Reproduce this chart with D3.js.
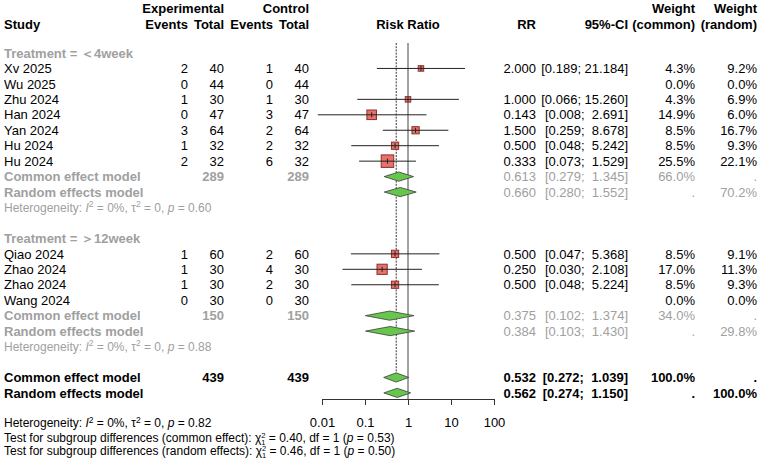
<!DOCTYPE html>
<html><head><meta charset="utf-8">
<script src="https://cdn.jsdelivr.net/npm/d3@7"></script>
<style>
body{margin:0;background:#fff}
svg{font-family:"Liberation Sans",Arial,sans-serif;display:block}
text{white-space:pre}
</style>
</head><body>
<svg id="chart" width="760" height="464"></svg>
<script>
// ---------------- data ----------------
const studyLabels = ["Xv 2025","Wu 2025","Zhu 2024","Han 2024","Yan 2024","Hu 2024","Hu 2024",
                     "Qiao 2024","Zhao 2024","Zhao 2024","Wang 2024"];
const studyGroup  = [0,0,0,0,0,0,0,1,1,1,1];
const expEvents   = [2,0,1,0,3,1,2,1,1,1,0];
const expTotal    = [40,44,30,47,64,32,32,60,30,30,30];
const ctlEvents   = [1,0,1,3,2,2,6,2,4,2,0];
const ctlTotal    = [40,44,30,47,64,32,32,60,30,30,30];
const rrValues    = [2.000,null,1.000,0.143,1.500,0.500,0.333,0.500,0.250,0.500,null];
const ciLower     = [0.189,null,0.066,0.008,0.259,0.048,0.073,0.047,0.030,0.048,null];
const ciUpper     = [21.184,null,15.260,2.691,8.678,5.242,1.529,5.368,2.108,5.224,null];
const weightCommon= [4.3,0.0,4.3,14.9,8.5,8.5,25.5,8.5,17.0,8.5,0.0];
const weightRandom= [9.2,0.0,6.9,6.0,16.7,9.3,22.1,9.1,11.3,9.3,0.0];

const groupLabels    = ["Treatment = \uFF1C4week","Treatment = \uFF1E12week"];
const groupTotalExp  = [289,150];
const groupTotalCtl  = [289,150];
const groupCommon    = [[0.613,0.279,1.345],[0.375,0.102,1.374]];
const groupCommonW   = [66.0,34.0];
const groupRandom    = [[0.660,0.280,1.552],[0.384,0.103,1.430]];
const groupRandomW   = [70.2,29.8];
const groupHetP      = ["0.60","0.88"];

const overallCommon  = [0.532,0.272,1.039];
const overallRandom  = [0.562,0.274,1.150];
const overallTotals  = [439,439];
const overallHetP    = "0.82";
const subgroupTests  = [{model:"common effect",chi:"0.40",p:"0.53"},
                        {model:"random effects",chi:"0.46",p:"0.50"}];
const axisTicks      = [0.01,0.1,1,10,100];

// ---------------- layout ----------------
const svg = d3.select("#chart");
const grey = "#a0a0a0";
const FS = 13, FSsmall = 12;
const col = {study:4, expEv:188, expTot:224, ctlEv:273, ctlTot:309, rr:536, ci:628, wc:695, wr:757};
const x = d3.scaleLog().domain([0.01,100]).range([322,494]);
const yRow = d3.scaleLinear().domain([0,22]).range([53, 53+22*15.45]);
const axisY = 399;
const sq = d3.scaleSqrt().domain([0,25.5]).range([0,12.5]);
const f3 = d3.format(".3f");
const pct = v => d3.format(".1f")(v) + "%";
const ciStr = (lo,hi) => "[" + f3(lo) + ";" + f3(hi).padStart(7," ") + "]";

function txt(xp, yp, s, opt={}) {
  return svg.append("text").attr("x",xp).attr("y",yp).attr("dy","0.36em")
    .attr("font-size",opt.size||FS)
    .attr("font-weight",opt.bold?"bold":"normal")
    .attr("fill",opt.color||"#000")
    .attr("text-anchor",opt.anchor||"start")
    .text(s);
}

// build rows
const rows = [];
[0,1].forEach(g=>{
  rows.push({type:"group",g});
  studyLabels.forEach((s,i)=>{ if(studyGroup[i]===g) rows.push({type:"study",i}); });
  rows.push({type:"gcommon",g});
  rows.push({type:"grandom",g});
  rows.push({type:"ghet",g});
  rows.push({type:"blank"});
});
rows.push({type:"ocommon"});
rows.push({type:"orandom"});
rows.forEach((r,k)=> r.y = yRow(k));

// ---------------- headers ----------------
const hy1 = yRow(-3)+2, hy2 = yRow(-2)+2;
txt(col.study,hy2,"Study",{bold:true});
txt(col.expTot,hy1,"Experimental",{bold:true,anchor:"end"});
txt(col.expEv,hy2,"Events",{bold:true,anchor:"end"});
txt(col.expTot,hy2,"Total",{bold:true,anchor:"end"});
txt(col.ctlTot,hy1,"Control",{bold:true,anchor:"end"});
txt(col.ctlEv,hy2,"Events",{bold:true,anchor:"end"});
txt(col.ctlTot,hy2,"Total",{bold:true,anchor:"end"});
txt(x(1),hy2,"Risk Ratio",{bold:true,anchor:"middle"});
txt(col.rr,hy2,"RR",{bold:true,anchor:"end"});
txt(col.ci,hy2,"95%-CI",{bold:true,anchor:"end"});
txt(col.wc,hy1,"Weight",{bold:true,anchor:"end"});
txt(col.wc,hy2,"(common)",{bold:true,anchor:"end"});
txt(col.wr,hy1,"Weight",{bold:true,anchor:"end"});
txt(col.wr,hy2,"(random)",{bold:true,anchor:"end"});

// ---------------- reference lines ----------------
const plotTop = 43;
const dh = 4.6; // diamond half height
const ocRow = rows.find(r=>r.type==="ocommon");
svg.append("line").attr("x1",x(1)).attr("x2",x(1)).attr("y1",plotTop).attr("y2",axisY)
  .attr("stroke","#444").attr("stroke-width",1);
svg.append("line").attr("x1",x(overallCommon[0])).attr("x2",x(overallCommon[0]))
  .attr("y1",plotTop).attr("y2",ocRow.y-dh)
  .attr("stroke","#333").attr("stroke-width",1).attr("stroke-dasharray","2,1.2");

// ---------------- axis ----------------
const axis = d3.axisBottom(x).tickValues(axisTicks).tickFormat(d=>String(d))
  .tickSize(6).tickSizeOuter(0).tickPadding(13);
const ag = svg.append("g").attr("transform",`translate(0,${axisY})`).call(axis);
ag.select(".domain").attr("stroke","#333");
ag.selectAll(".tick line").attr("stroke","#333");
ag.selectAll(".tick text").attr("font-size",FS).attr("font-family","Liberation Sans, Arial, sans-serif").attr("fill","#000");

function diamond(est, lo, hi, y) {
  const pts = [[x(lo),y],[x(est),y-dh],[x(hi),y],[x(est),y+dh]];
  svg.append("polygon").attr("points",pts.map(p=>p.join(",")).join(" "))
    .attr("fill","#66c74c").attr("stroke","#3c3c3c").attr("stroke-width",0.8);
}

function het(y, p, color) {
  const t = svg.append("text").attr("x",col.study).attr("y",y).attr("dy","0.36em")
    .attr("font-size",FSsmall).attr("fill",color);
  t.append("tspan").text("Heterogeneity: ");
  t.append("tspan").attr("font-style","italic").text("I");
  t.append("tspan").attr("dy",-4.5).attr("font-size",8.5).text("2");
  t.append("tspan").attr("dy",4.5).text(" = 0%, \u03C4");
  t.append("tspan").attr("dy",-4.5).attr("font-size",8.5).text("2");
  t.append("tspan").attr("dy",4.5).text(" = 0, ");
  t.append("tspan").attr("font-style","italic").text("p");
  t.append("tspan").text(" = " + p);
}

// ---------------- rows ----------------
rows.forEach(r=>{
  const y = r.y;
  if (r.type==="group") {
    txt(col.study,y,groupLabels[r.g],{bold:true,color:grey});
  } else if (r.type==="study") {
    const i = r.i;
    txt(col.study,y,studyLabels[i]);
    txt(col.expEv,y,String(expEvents[i]),{anchor:"end"});
    txt(col.expTot,y,String(expTotal[i]),{anchor:"end"});
    txt(col.ctlEv,y,String(ctlEvents[i]),{anchor:"end"});
    txt(col.ctlTot,y,String(ctlTotal[i]),{anchor:"end"});
    if (rrValues[i]!==null) {
      txt(col.rr,y,f3(rrValues[i]),{anchor:"end"});
      txt(col.ci,y,ciStr(ciLower[i],ciUpper[i]),{anchor:"end"});
      const s = Math.max(sq(weightCommon[i]),5.5);
      svg.append("rect").attr("x",x(rrValues[i])-s/2).attr("y",y-s/2)
        .attr("width",s).attr("height",s)
        .attr("fill","#e8716a").attr("stroke","#8a3030").attr("stroke-width",1);
      svg.append("line").attr("x1",x(ciLower[i])).attr("x2",x(ciUpper[i]))
        .attr("y1",y).attr("y2",y).attr("stroke","#222").attr("stroke-width",1);
      svg.append("line").attr("x1",x(rrValues[i])).attr("x2",x(rrValues[i]))
        .attr("y1",y-2.5).attr("y2",y+2.5).attr("stroke","#222").attr("stroke-width",1);
    }
    txt(col.wc,y,pct(weightCommon[i]),{anchor:"end"});
    txt(col.wr,y,pct(weightRandom[i]),{anchor:"end"});
  } else if (r.type==="gcommon") {
    const g=r.g, e=groupCommon[g];
    txt(col.study,y,"Common effect model",{bold:true,color:grey});
    txt(col.expTot,y,String(groupTotalExp[g]),{bold:true,color:grey,anchor:"end"});
    txt(col.ctlTot,y,String(groupTotalCtl[g]),{bold:true,color:grey,anchor:"end"});
    diamond(e[0],e[1],e[2],y);
    txt(col.rr,y,f3(e[0]),{color:grey,anchor:"end"});
    txt(col.ci,y,ciStr(e[1],e[2]),{color:grey,anchor:"end"});
    txt(col.wc,y,pct(groupCommonW[g]),{color:grey,anchor:"end"});
    txt(col.wr,y,".",{color:grey,anchor:"end"});
  } else if (r.type==="grandom") {
    const g=r.g, e=groupRandom[g];
    txt(col.study,y,"Random effects model",{bold:true,color:grey});
    diamond(e[0],e[1],e[2],y);
    txt(col.rr,y,f3(e[0]),{color:grey,anchor:"end"});
    txt(col.ci,y,ciStr(e[1],e[2]),{color:grey,anchor:"end"});
    txt(col.wc,y,".",{color:grey,anchor:"end"});
    txt(col.wr,y,pct(groupRandomW[g]),{color:grey,anchor:"end"});
  } else if (r.type==="ghet") {
    het(y,groupHetP[r.g],grey);
  } else if (r.type==="ocommon") {
    const e=overallCommon;
    txt(col.study,y,"Common effect model",{bold:true});
    txt(col.expTot,y,String(overallTotals[0]),{bold:true,anchor:"end"});
    txt(col.ctlTot,y,String(overallTotals[1]),{bold:true,anchor:"end"});
    diamond(e[0],e[1],e[2],y);
    txt(col.rr,y,f3(e[0]),{bold:true,anchor:"end"});
    txt(col.ci,y,ciStr(e[1],e[2]),{bold:true,anchor:"end"});
    txt(col.wc,y,"100.0%",{bold:true,anchor:"end"});
    txt(col.wr,y,".",{bold:true,anchor:"end"});
  } else if (r.type==="orandom") {
    const e=overallRandom;
    txt(col.study,y,"Random effects model",{bold:true});
    diamond(e[0],e[1],e[2],y);
    txt(col.rr,y,f3(e[0]),{bold:true,anchor:"end"});
    txt(col.ci,y,ciStr(e[1],e[2]),{bold:true,anchor:"end"});
    txt(col.wc,y,".",{bold:true,anchor:"end"});
    txt(col.wr,y,"100.0%",{bold:true,anchor:"end"});
  }
});

// ---------------- bottom notes ----------------
het(423, overallHetP, "#000");
subgroupTests.forEach((tst,k)=>{
  const y = 437.5 + k*13.2;
  const t = svg.append("text").attr("x",col.study).attr("y",y).attr("dy","0.36em")
    .attr("font-size",FSsmall).attr("fill","#000");
  t.append("tspan").text(`Test for subgroup differences (${tst.model}): \u03C7`);
  t.append("tspan").attr("dy",-4).attr("font-size",7.5).text("2");
  t.append("tspan").attr("dx",-4.2).attr("dy",7).attr("font-size",7.5).text("1");
  t.append("tspan").attr("dy",-3).text(` = ${tst.chi}, df = 1 (`);
  t.append("tspan").attr("font-style","italic").text("p");
  t.append("tspan").text(` = ${tst.p})`);
});
</script>
</body></html>
